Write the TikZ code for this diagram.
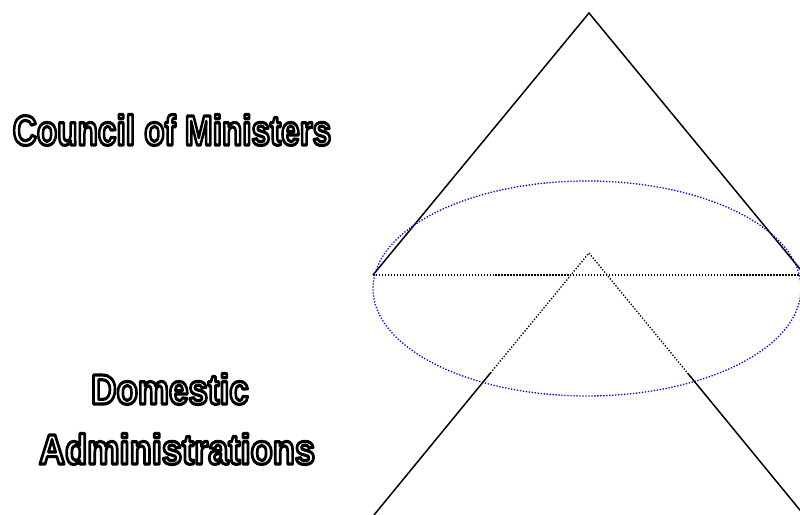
\documentclass[tikz,border=0pt]{standalone}
\usepackage{fontspec}
\setmainfont{Liberation Sans}
\usepackage{tikz}
% white letters with a black rim (fill + stroke text mode)
\newcommand{\hollow}[2][0.84]{\scalebox{#1}[1]{\special{pdf:literal direct 2 Tr 1.8 w 0 G 1 g 1 j}#2\special{pdf:literal direct 0 Tr}}}

\begin{document}
\begin{tikzpicture}[x=0.2mm, y=-0.2mm,
  lbl/.style={inner sep=0pt, font=\fontsize{24}{24}\selectfont\bfseries},
  sl/.style={line width=0.85pt, black},
  dl/.style={line width=0.75pt, dash pattern=on 0.75pt off 0.95pt}]
\useasboundingbox (0,0) rectangle (800,515);
% labels
\node[lbl] (cm) at (172,130) {\hollow[0.79]{Council of Ministers}};
\node[lbl] (da) at (170,389) {\hollow[0.83]{Domestic}};
\node[lbl] (ad) at (177,449) {\hollow[0.86]{Administrations}};
% upper triangle
\coordinate (top) at (589,13);
\coordinate (ul) at (373,275);
\coordinate (ur) at (805,275);
\draw[sl] (ul) -- (top) -- (ur);
\draw[dl] (ul) -- (800,275);
\draw[dl, blue] (587,288.5) ellipse (214 and 107.5);
% lower triangle
\coordinate (apex) at (589,253);
\coordinate (ll) at (490.5,373);
\coordinate (lr) at (687.5,373);
\coordinate (bl) at (374,515);
\coordinate (br) at (804,515);
\draw[dl] (ll) -- (apex) -- (lr);
\draw[sl] (ll) -- (bl);
\draw[sl] (lr) -- (br);
\end{tikzpicture}
\end{document}
